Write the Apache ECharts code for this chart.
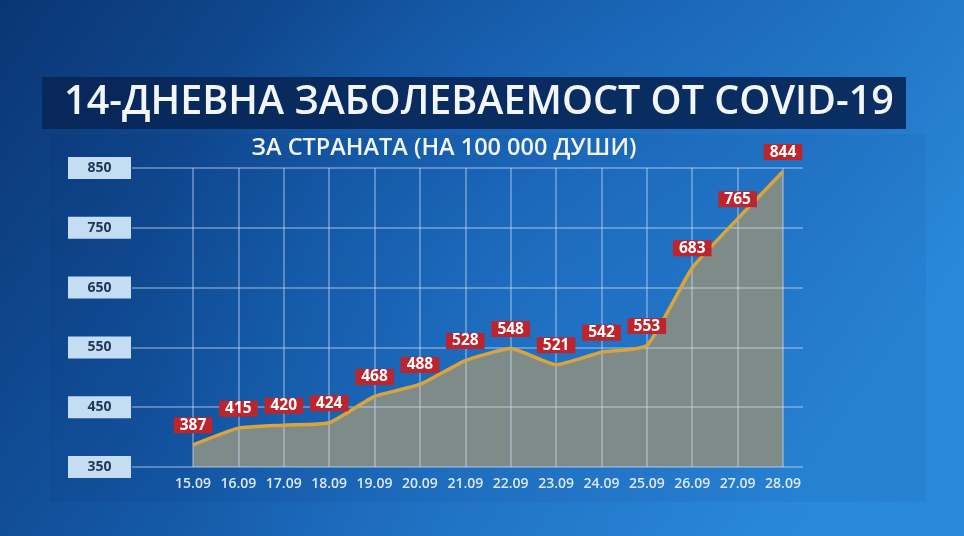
<!DOCTYPE html>
<html>
<head>
<meta charset="utf-8">
<script src="https://cdn.jsdelivr.net/npm/echarts@6/dist/echarts.min.js"></script>
<style>html,body{margin:0;padding:0;}#c{width:964px;height:536px;}</style>
</head>
<body>
<div id="c"></div>
<script>
const titleText = '14-ДНЕВНА ЗАБОЛЕВАЕМОСТ ОТ COVID-19';
const subtitleText = 'ЗА СТРАНАТА (НА 100 000 ДУШИ)';
const categories = ['15.09','16.09','17.09','18.09','19.09','20.09','21.09','22.09','23.09','24.09','25.09','26.09','27.09','28.09'];
const values = [387,415,420,424,468,488,528,548,521,542,553,683,765,844];
const yMin = 350, yMax = 850, yStep = 100;

const chart = echarts.init(document.getElementById('c'));
const FONT = 'Open Sans';
const GRIDLINE = {color: 'rgba(210,228,248,0.5)', width: 1.5};
chart.setOption({
  animation: false,
  backgroundColor: {
    type: 'linear', x: 0, y: 0, x2: 0.8, y2: 1,
    colorStops: [
      {offset: 0, color: '#0a3573'},
      {offset: 0.45, color: '#1458a6'},
      {offset: 1, color: '#2a88da'}
    ]
  },
  graphic: [
    {type: 'circle', shape: {cx: 560, cy: 330, r: 420}, z: -10, silent: true,
     style: {fill: {type: 'radial', x: 0.5, y: 0.5, r: 0.5,
       colorStops: [{offset: 0, color: 'rgba(40,130,220,0.45)'}, {offset: 1, color: 'rgba(40,130,220,0)'}]}}},
    {type: 'rect', shape: {x: 50, y: 134, width: 876, height: 368}, z: -5, silent: true,
     style: {fill: 'rgba(0,25,70,0.05)'}},
    {type: 'rect', shape: {x: 42, y: 77, width: 864, height: 52}, z: 5, silent: true,
     style: {fill: 'rgba(8,38,86,0.9)'}},
    {type: 'text', x: 479, y: 103, z: 6, silent: true,
     style: {text: titleText, fill: '#f2f6fb', font: '600 39.5px "Open Sans"', textAlign: 'center', textVerticalAlign: 'middle'}},
    {type: 'text', x: 444, y: 148, z: 6, silent: true,
     style: {text: subtitleText, fill: '#f2f6fb', font: '600 23.5px "Open Sans"', textAlign: 'center', textVerticalAlign: 'middle'}}
  ],
  grid: [
    {left: 193, right: 181, top: 168, bottom: 69},
    {left: 132, right: 161, top: 168, bottom: 69}
  ],
  xAxis: [
    {type: 'category', gridIndex: 0, data: categories, boundaryGap: false, z: 3,
     axisLine: {show: false}, axisTick: {show: false},
     axisLabel: {interval: 0, color: '#dbe9f7', fontFamily: FONT, fontSize: 14, fontWeight: 600, margin: 10},
     splitLine: {show: true, interval: 0, lineStyle: GRIDLINE}},
    {type: 'value', gridIndex: 1, min: 0, max: 1, show: false}
  ],
  yAxis: [
    {type: 'value', gridIndex: 0, min: yMin, max: yMax, interval: yStep, show: false},
    {type: 'value', gridIndex: 1, min: yMin, max: yMax, interval: yStep, z: 3,
     axisLine: {show: false}, axisTick: {show: false},
     splitLine: {show: true, lineStyle: GRIDLINE},
     axisLabel: {margin: 32.5, align: 'center', formatter: v => '{b|' + v + '}',
       rich: {b: {backgroundColor: '#c5ddf2', color: '#1f3658', fontFamily: FONT, fontWeight: 700,
                  fontSize: 14, width: 63, height: 22, lineHeight: 22, align: 'center'}}}}
  ],
  series: [{
    type: 'line', xAxisIndex: 0, yAxisIndex: 0, data: values, z: 1,
    smooth: 0.15, symbol: 'none',
    lineStyle: {width: 0},
    areaStyle: {color: '#7f8b89', opacity: 1},
    silent: true
  }, {
    type: 'line', xAxisIndex: 0, yAxisIndex: 0, data: values, z: 4,
    smooth: 0.15, symbol: 'circle', symbolSize: 1, showSymbol: true,
    itemStyle: {color: 'rgba(0,0,0,0)'},
    lineStyle: {color: '#d9a43e', width: 3.5},
    label: {show: true, position: 'top', distance: 11,
      backgroundColor: '#bd242c', color: '#ffffff', fontFamily: FONT, fontWeight: 700, fontSize: 15.5,
      padding: [0, 6, 0, 6], lineHeight: 16}
  }]
});
</script>
</body>
</html>
